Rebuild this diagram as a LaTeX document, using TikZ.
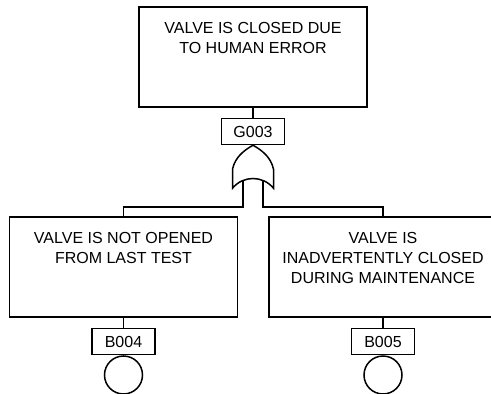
\documentclass[tikz,border=0pt]{standalone}
\usepackage{fontspec}
\setmainfont{Liberation Sans}
\usetikzlibrary{positioning}

\begin{document}
\begin{tikzpicture}[x=1pt, y=-1pt, line width=1.5pt]
        % Define block styles
        \tikzstyle{event} = [rectangle, draw, minimum width=228pt, minimum height=100pt, inner sep=0pt]
        \tikzstyle{eventtext} = [anchor=north, inner sep=0pt, yshift=-15pt, align=center, font=\fontsize{16}{20}\selectfont]
        \tikzstyle{tag} = [rectangle, draw, minimum width=63pt, minimum height=26pt, inner sep=0pt, font=\fontsize{16}{20}\selectfont]
        \tikzstyle{basic} = [circle, draw, minimum size=38pt, inner sep=0pt]
        \tikzstyle{line} = [draw]

        \useasboundingbox (0,0) rectangle (491,394);

        % Define nodes
        \node [event, label={[eventtext]north:{VALVE IS CLOSED DUE\\TO HUMAN ERROR}}] (E1) at (253,57) {};
        \node [tag, below=10pt of E1] (G003) {G003};

        % OR gate
        \begin{scope}[shift={(G003.south)}]
            \draw (-20.5,43) -- (-20.5,24) .. controls (-18,12) and (-9,5) .. (0,0)
                .. controls (9,5) and (18,12) .. (20.5,24) -- (20.5,43)
                .. controls (10,30) and (-10,30) .. cycle;
            \coordinate (gin1) at (-10,36);
            \coordinate (gin2) at (10,36);
        \end{scope}
        \coordinate (bus) at (0,207);

        \node [event, label={[eventtext]north:{VALVE IS NOT OPENED\\FROM LAST TEST}}] (E2) at (123.5,267) {};
        \node [event, label={[eventtext]north:{VALVE IS\\INADVERTENTLY CLOSED\\DURING MAINTENANCE}}] (E3) at (383,267) {};
        \node [tag, below=10pt of E2] (B004) {B004};
        \node [tag, below=10pt of E3] (B005) {B005};
        \node [basic, below=0pt of B004] (C1) {};
        \node [basic, below=0pt of B005] (C2) {};

        % Connect nodes with paths
        \path [line] (E1.south) -- (G003.north);
        \path [line] (E2.north) |- (gin1 |- bus) -- (gin1);
        \path [line] (E3.north) |- (gin2 |- bus) -- (gin2);
        \path [line] (E2.south) -- (B004.north);
        \path [line] (E3.south) -- (B005.north);

\end{tikzpicture}
\end{document}
